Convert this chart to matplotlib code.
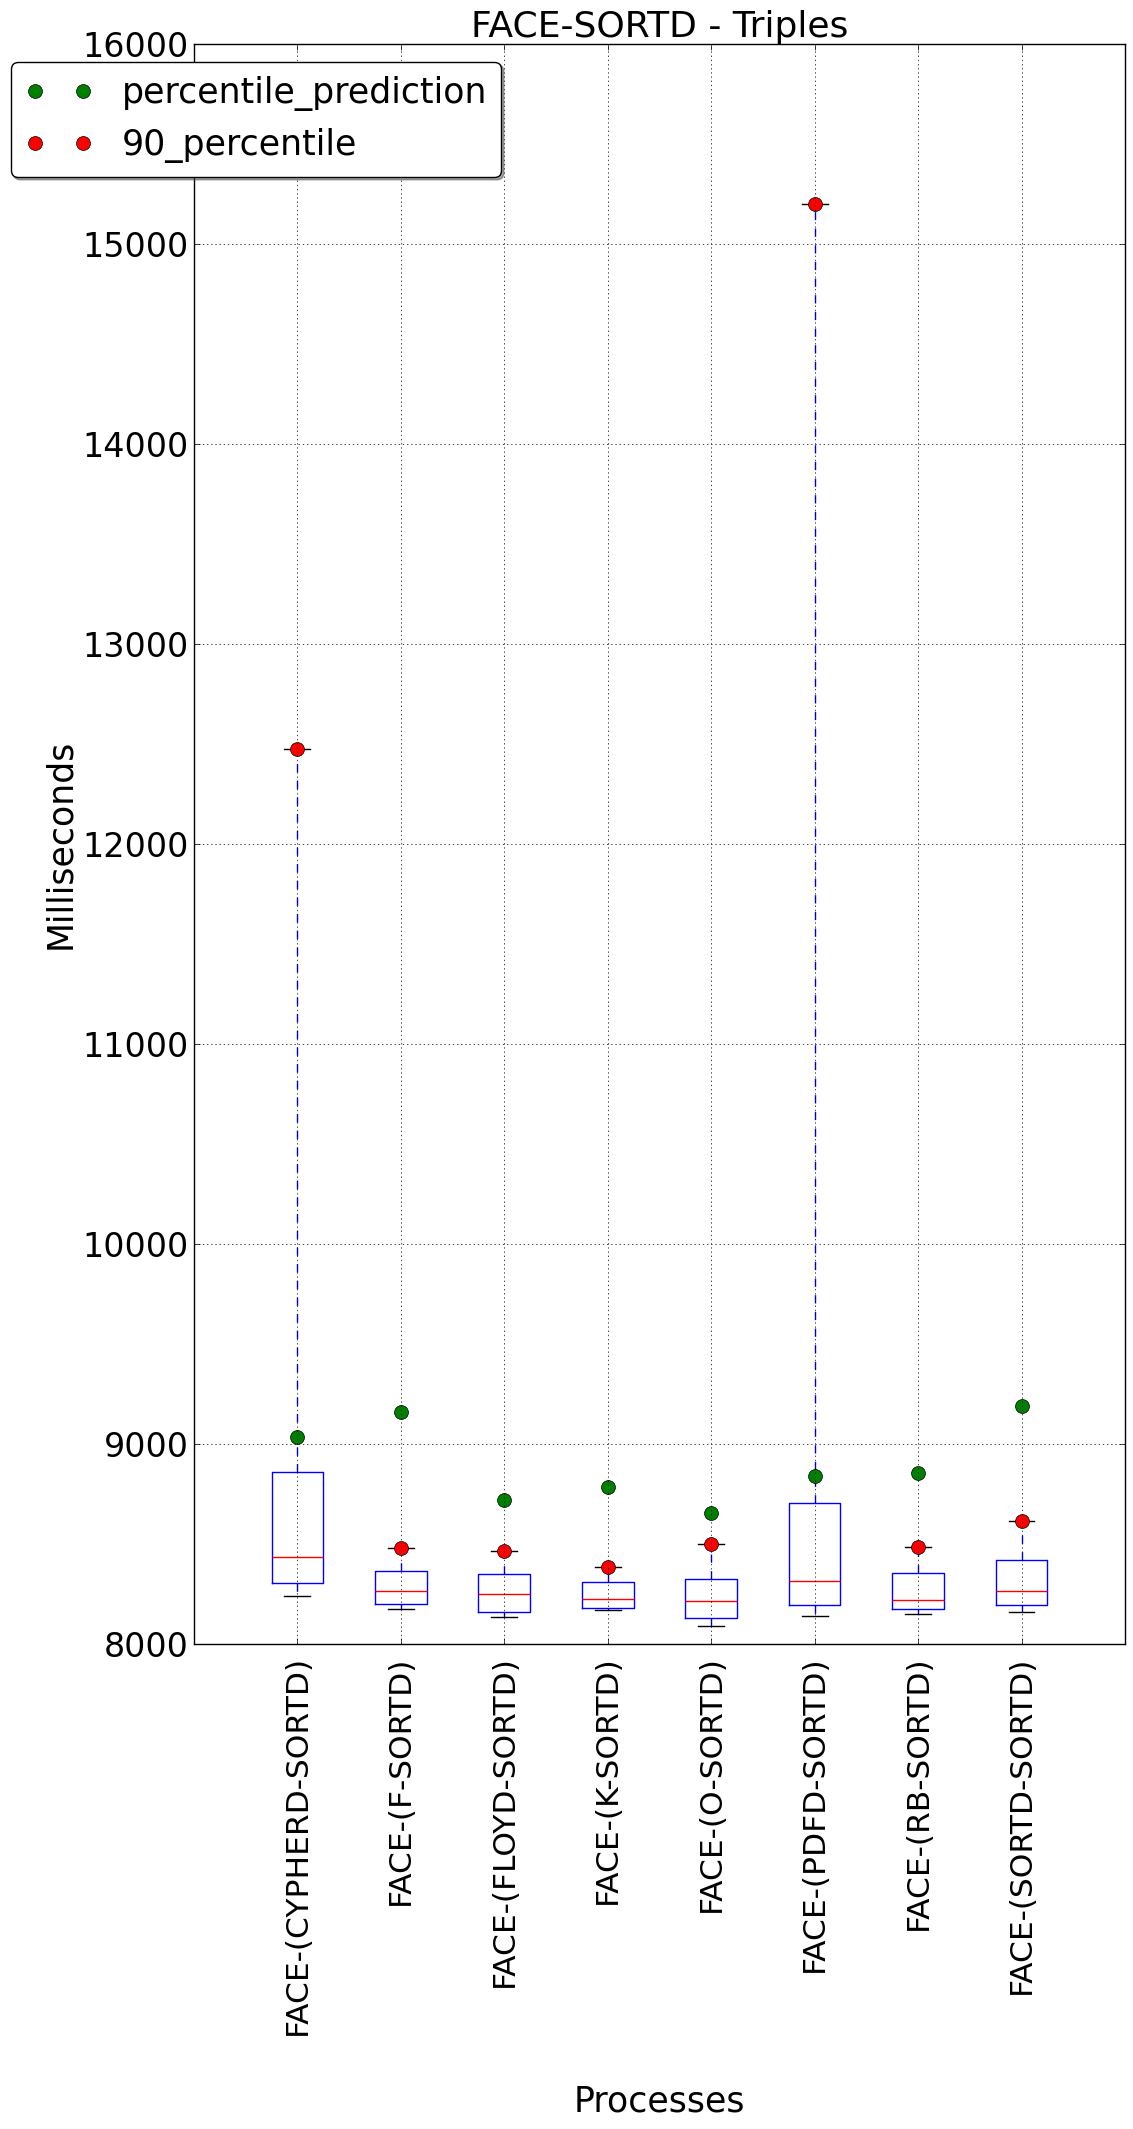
import matplotlib
matplotlib.use('Agg')
import matplotlib.pyplot as plt

processes = ['FACE-(CYPHERD-SORTD)', 'FACE-(F-SORTD)', 'FACE-(FLOYD-SORTD)',
             'FACE-(K-SORTD)', 'FACE-(O-SORTD)', 'FACE-(PDFD-SORTD)',
             'FACE-(RB-SORTD)', 'FACE-(SORTD-SORTD)']
q1 = [8307, 8200, 8162, 8180, 8130, 8195, 8175, 8195]
median = [8437, 8265, 8252, 8225, 8215, 8315, 8220, 8265]
q3 = [8862, 8365, 8350, 8310, 8325, 8705, 8355, 8423]
whisker_low = [8242, 8175, 8135, 8170, 8090, 8140, 8150, 8160]
whisker_high = [12477, 8480, 8465, 8385, 8500, 15201, 8488, 8615]
p90 = [12477, 8480, 8465, 8385, 8500, 15201, 8488, 8615]
prediction = [9035, 9160, 8722, 8785, 8655, 8840, 8857, 9192]
yticks = [8000, 9000, 10000, 11000, 12000, 13000, 14000, 15000, 16000]

plt.rcParams['font.family'] = ['DejaVu Sans']
fig = plt.figure(figsize=(11.33, 21.29), dpi=100)
ax = fig.add_axes([0.1712, 0.2277, 0.8217, 0.7515])

positions = list(range(1, len(processes) + 1))
stats = [dict(med=m, q1=a, q3=b, whislo=lo, whishi=hi, fliers=[])
         for a, m, b, lo, hi in zip(q1, median, q3, whisker_low, whisker_high)]
ax.bxp(stats, positions=positions, widths=0.5, showfliers=False,
       boxprops=dict(color='b', linewidth=1),
       whiskerprops=dict(color='b', linestyle=(0, (6, 6)), linewidth=1),
       capprops=dict(color='k', linewidth=1),
       medianprops=dict(color='r', linewidth=1))

ax.plot(positions, prediction, 'o', color='g', markeredgecolor='k',
        markeredgewidth=0.5, markersize=10, label='percentile_prediction')
ax.plot(positions, p90, 'o', color='r', markeredgecolor='k',
        markeredgewidth=0.5, markersize=10, label='90_percentile')

ax.set_xlim(0, 9)
ax.set_ylim(8000, 16000)
ax.set_xticks(positions)
ax.set_xticklabels(processes, rotation=90, fontsize=22.5)
ax.set_yticks(yticks)
ax.set_yticklabels([str(v) for v in yticks], fontsize=24)
ax.tick_params(direction='in', top=True, right=True, length=4, width=0.5)
ax.tick_params(axis='x', pad=8)
ax.set_axisbelow(False)
ax.grid(True, color='k', linestyle=(0, (2, 4)), linewidth=0.5)
for s in ax.spines.values():
    s.set_linewidth(1)

ax.set_title('FACE-SORTD - Triples', fontsize=26, pad=5)
ax.set_xlabel('Processes', fontsize=25, labelpad=35)
ax.set_ylabel('Milliseconds', fontsize=25)

leg = ax.legend(loc='upper left', bbox_to_anchor=(-0.197, 0.989), borderaxespad=0,
                numpoints=2, fontsize=25, fancybox=True, shadow=True,
                framealpha=1, edgecolor='k')
leg.get_frame().set_linewidth(1)

fig.savefig('out.png', dpi=100)
